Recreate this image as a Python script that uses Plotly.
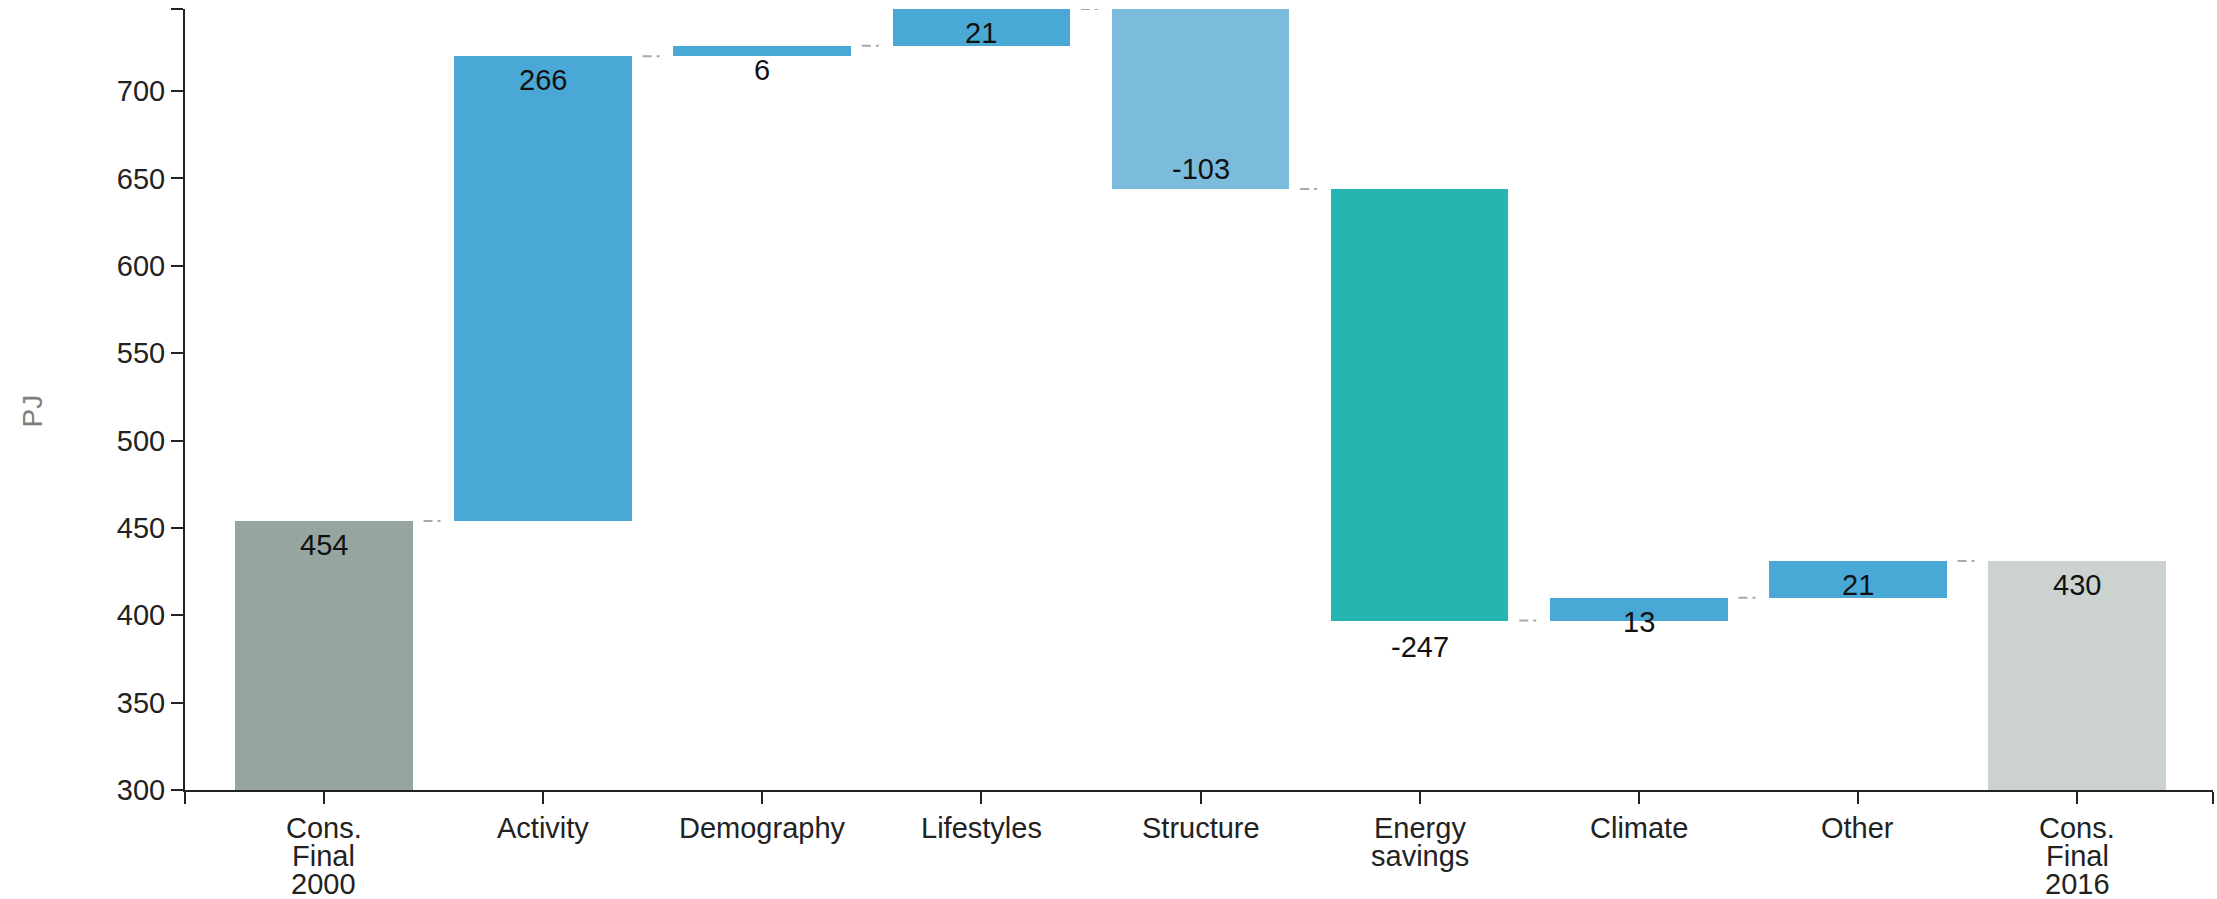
import plotly.graph_objects as go

# ---- data ----
categories = ["Cons.<br>Final<br>2000", "Activity", "Demography", "Lifestyles", "Structure",
              "Energy<br>savings", "Climate", "Other", "Cons.<br>Final<br>2016"]
measures = ["absolute", "relative", "relative", "relative", "relative",
            "relative", "relative", "relative", "total"]
values = [454, 266, 6, 21, -103, -247, 13, 21, 430]
y_ticks = [300, 350, 400, 450, 500, 550, 600, 650, 700]

# ---- styles ----
bar_colors = ["#96a5a0", "#4aa8d6", "#4aa8d6", "#4aa8d6", "#7bbbdc",
              "#26b6b1", "#4aa8d6", "#4aa8d6", "#cbd2d0"]
label_shift = [-24, -24, -24, -24, 20, -26, -24, -24, -24]
FONT = "Liberation Sans, Arial, Helvetica, sans-serif"
W, H = 2217, 899
ML, MR, MT, MB = 185, 4, 9, 109
bar_width = 0.81
x_lo, x_hi = -0.634, 8.62
y_lo, y_hi = 300, 747

# compute bases / ends from the values
bases, ends, heights = [], [], []
running = 0
for m, v in zip(measures, values):
    if m == "absolute":
        bases.append(y_lo); heights.append(v - y_lo); running = v; ends.append(v)
    elif m == "total":
        bases.append(y_lo); heights.append(running - y_lo); ends.append(running)
    else:
        start = running
        running = start + v
        bases.append(min(start, running)); heights.append(abs(v)); ends.append(running)

xs = list(range(len(categories)))
fig = go.Figure()
fig.add_trace(go.Bar(
    x=xs, y=heights, base=bases, width=bar_width,
    marker=dict(color=bar_colors, line=dict(width=0)),
    hoverinfo="skip", showlegend=False,
))

# connectors
px_per_unit = (W - ML - MR) / (x_hi - x_lo)
half = 10 / px_per_unit
cx, cy = [], []
for i in range(len(categories) - 1):
    mid = i + 0.5
    cx += [mid - half, mid + half, None]
    cy += [ends[i], ends[i], None]
fig.add_trace(go.Scatter(
    x=cx, y=cy, mode="lines",
    line=dict(color="#a8a8a8", width=2, dash="9px,5px,3px,100px"),
    hoverinfo="skip", showlegend=False,
))

# value labels
for i, (v, e) in enumerate(zip(values, ends)):
    fig.add_annotation(x=i, y=e, xref="x", yref="y", text=str(v), showarrow=False,
                       yanchor="middle", xanchor="center", yshift=label_shift[i],
                       font=dict(family=FONT, size=29, color="#111111"))

# category labels (tight line spacing)
for i, cat in enumerate(categories):
    for j, line in enumerate(cat.split("<br>")):
        fig.add_annotation(x=i, y=0, xref="x", yref="paper", text=line, showarrow=False,
                           yanchor="top", xanchor="center", yshift=-20 - 28 * j,
                           font=dict(family=FONT, size=29, color="#222222"))

# y axis title
fig.add_annotation(x=(32 - ML) / (W - ML - MR), y=0.5, xref="paper", yref="paper",
                   text="PJ", textangle=-90, showarrow=False,
                   xanchor="center", yanchor="middle", yshift=-12,
                   font=dict(family=FONT, size=28, color="#7f7f7f"))

fig.update_layout(
    width=W, height=H,
    margin=dict(l=ML, r=MR, t=MT, b=MB, pad=0),
    paper_bgcolor="white", plot_bgcolor="white",
    font=dict(family=FONT, size=29, color="#222222"),
    bargap=0,
)
fig.update_xaxes(
    range=[x_lo, x_hi], tickmode="array",
    tickvals=[x_lo] + xs + [x_hi], ticktext=[""] * (len(xs) + 2),
    showgrid=False, zeroline=False, showline=True, linecolor="#222222", linewidth=2,
    ticks="outside", ticklen=12, tickwidth=2, tickcolor="#222222",
)
fig.update_yaxes(
    range=[y_lo, y_hi], tickmode="array",
    tickvals=y_ticks + [y_hi], ticktext=[str(t) for t in y_ticks] + [""],
    showgrid=False, zeroline=False, showline=True, linecolor="#222222", linewidth=2,
    ticks="outside", ticklen=12, tickwidth=2, tickcolor="#222222",
    tickfont=dict(family=FONT, size=29, color="#222222"),
)

fig.write_html("out.html")
